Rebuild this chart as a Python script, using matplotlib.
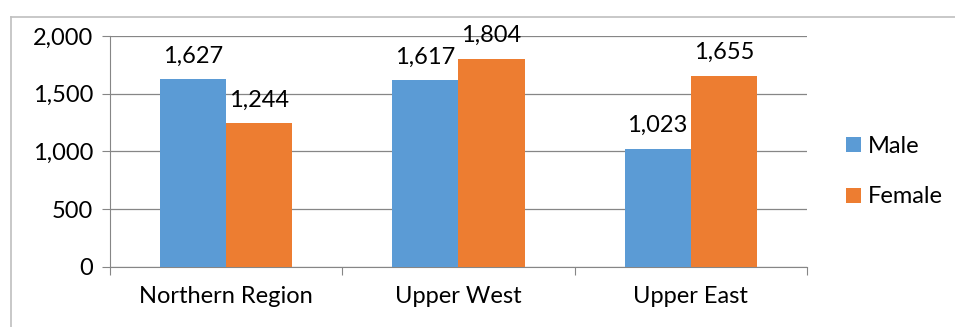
import matplotlib
matplotlib.use("Agg")
import matplotlib.pyplot as plt
import numpy as np
from matplotlib.lines import Line2D

regions = ["Northern Region", "Upper West", "Upper East"]
male = [1627, 1617, 1023]
female = [1244, 1804, 1655]
y_ticks = [0, 500, 1000, 1500, 2000]

BLUE = "#5B9BD5"
ORANGE = "#ED7D31"
GRID = "#868686"
FS = 17

plt.rcParams["font.family"] = ["Lato", "DejaVu Sans"]

fig = plt.figure(figsize=(9.55, 3.27), dpi=100)
ax = fig.add_axes([0.115, 0.1835, 0.73, 0.7065])

x = np.arange(len(regions))
w = 0.285
b1 = ax.bar(x - w / 2, male, w, color=BLUE, label="Male", zorder=3)
b2 = ax.bar(x + w / 2, female, w, color=ORANGE, label="Female", zorder=3)

for bars, vals in ((b1, male), (b2, female)):
    for bar, v in zip(bars, vals):
        ax.annotate(f"{v:,}", (bar.get_x() + bar.get_width() / 2, v),
                    xytext=(0, 9), textcoords="offset points",
                    ha="center", va="bottom", fontsize=FS, color="black")

ax.set_xlim(-0.5, len(regions) - 0.5)
ax.set_ylim(0, 2000)
ax.set_yticks(y_ticks)
ax.set_yticklabels([f"{t:,}" for t in y_ticks], fontsize=FS)
ax.yaxis.grid(True, color=GRID, linewidth=0.9, zorder=0)
ax.tick_params(axis="y", length=6, color=GRID, pad=6)

# category ticks sit between groups, labels centred under each group
ax.set_xticks(np.arange(len(regions) + 1) - 0.5)
ax.set_xticklabels([])
ax.set_xticks(x, minor=True)
ax.set_xticklabels(regions, minor=True, fontsize=FS)
ax.tick_params(axis="x", which="major", length=6, color=GRID)
ax.tick_params(axis="x", which="minor", length=0, pad=14)

for side in ("top", "right"):
    ax.spines[side].set_visible(False)
ax.spines["left"].set_color(GRID)
ax.spines["bottom"].set_color(GRID)

fig.legend(handles=[b1, b2], loc="center left",
           bbox_to_anchor=(0.864, 0.475), frameon=False, fontsize=FS,
           handlelength=0.6, handleheight=0.6, handletextpad=0.3,
           labelspacing=1.25)

# outer frame edges
fig.add_artist(Line2D([0.0115, 0.0115], [0, 0.948], color="#BFBFBF", linewidth=1.2))
fig.add_artist(Line2D([0.0115, 1.0], [0.948, 0.948], color="#BFBFBF", linewidth=1.2))

fig.savefig("out.png", dpi=100)
